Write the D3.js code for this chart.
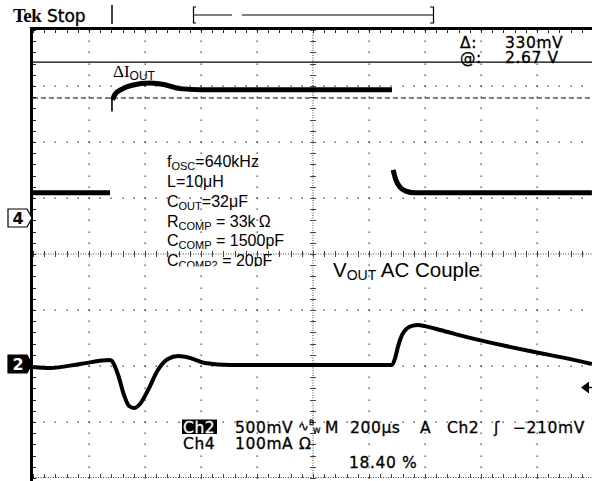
<!DOCTYPE html>
<html><head><meta charset="utf-8">
<script src="https://cdn.jsdelivr.net/npm/d3@7"></script>
<style>html,body{margin:0;padding:0;background:#fff;} svg{display:block}</style>
</head><body><svg id="c" width="592" height="481"></svg>
<script>
// ---------------- data ----------------
// time axis: 200 us/div, 10 divisions
const timeDomainUs = [0, 2000];
// Ch2 : V_OUT, AC coupled, 500 mV/div
const ch2TimeUs = [0, 61, 168, 275, 282, 304, 325, 343, 361, 382, 411, 446, 482, 518, 561, 614, 704, 954, 1282, 1293, 1304, 1318, 1336, 1357, 1375, 1400, 1454, 1550, 1786, 1907, 1996];
const ch2mV     = [-27, -36, 0, 36, 27, -98, -277, -375, -393, -357, -232, -54, 45, 71, 54, 9, -9, -9, -9, 50, 160, 260, 318, 343, 348, 338, 304, 240, 110, 50, 0];
// Ch4 : load current, 100 mA/div  (null = trace break)
const ch4TimeUs = [0, 275, 278, 284, 293, 318, 354, 418, 471, 525, 596, 1282, 1284, 1286, 1296, 1311, 1332, 1361, 1996];
const ch4mA     = [45, 45, null, 211, 221, 230, 237, 241, 238, 231, 229, 229, null, 86, 68, 55, 48, 45, 45];
// leading edge spike of the current step (thin)
const ch4EdgeTimeUs = [282, 282];
const ch4EdgemA = [190, 214];
// cursors (Ch2 scale) and trigger level
const cursorMv = [2696, 2375];
const triggerMv = -210;
const cursorLabels = [["\u0394:", "330mV"], ["@:", "2.67 V"]];
// annotation block: [main, subscript, rest]
const annotationLines = [
  ["f", "OSC", "=640kHz"],
  ["L=10\u03bcH", "", ""],
  ["C", "OUT", "=32\u03bcF"],
  ["R", "COMP", " = 33k\u2009\u03a9"],
  ["C", "COMP", " = 1500pF"],
  ["C", "COMP2", " = 20pF"]
];
const statusLine1 = ["500mV", "M", "200\u03bcs", "A", "Ch2", "\u0283", "\u2212210mV"];
const statusLine2 = ["Ch4", "100mA", "\u03a9"];
const dutyText = "18.40 %";

// ---------------- layout ----------------
const svg = d3.select("#c");
const X0 = 33, Y0 = 30, DIV = 56, NX = 10, NY = 8;
const XC = X0 + 5 * DIV, YC = Y0 + 4 * DIV;
const x = d3.scaleLinear().domain(timeDomainUs).range([X0, X0 + NX * DIV]);
const y2 = d3.scaleLinear().domain([0, 500]).range([364, 364 - DIV]);
const y4 = d3.scaleLinear().domain([0, 100]).range([218, 218 - DIV]);
const UI = "DejaVu Sans", AR = "Liberation Sans, Arial", SER = "Liberation Serif, Times New Roman";

svg.append("rect").attr("width", 592).attr("height", 481).attr("fill", "#fff");

// ---------------- graticule ----------------
const g = svg.append("g");
const minor = DIV / 5;
for (let i = 1; i < NX; i++) {
  if (i === 5) continue;
  for (let k = 0; k <= NY * 5; k++)
    g.append("rect").attr("x", Math.round(X0 + i * DIV) - 0.5).attr("y", Math.round(Y0 + k * minor) - 0.5)
      .attr("width", 1.3).attr("height", 1.3).attr("fill", "#333");
}
for (let j = 1; j < NY; j++) {
  if (j === 4) continue;
  for (let k = 0; k <= NX * 5; k++)
    g.append("rect").attr("x", Math.round(X0 + k * minor) - 0.5).attr("y", Math.round(Y0 + j * DIV) - 0.5)
      .attr("width", 1.3).attr("height", 1.3).attr("fill", "#333");
}
g.append("line").attr("x1", XC).attr("x2", XC).attr("y1", Y0).attr("y2", Y0 + NY * DIV)
  .attr("stroke", "#444").attr("stroke-width", 1).attr("stroke-dasharray", "1 1.5");
g.append("line").attr("x1", X0).attr("x2", X0 + NX * DIV).attr("y1", YC).attr("y2", YC)
  .attr("stroke", "#444").attr("stroke-width", 1).attr("stroke-dasharray", "1 1.5");
g.append("line").attr("x1", X0).attr("x2", X0 + NX * DIV).attr("y1", Y0 + NY * DIV - 0.5).attr("y2", Y0 + NY * DIV - 0.5)
  .attr("stroke", "#444").attr("stroke-width", 1).attr("stroke-dasharray", "1 1.5");
for (let k = 0; k <= NY * 5; k++) {
  const yy = Math.round(Y0 + k * minor) + 0.5;
  g.append("line").attr("x1", XC - 3).attr("x2", XC + 3).attr("y1", yy).attr("y2", yy).attr("stroke", "#444").attr("stroke-width", 1);
  g.append("line").attr("x1", X0).attr("x2", X0 + 3).attr("y1", yy).attr("y2", yy).attr("stroke", "#222").attr("stroke-width", 1);
}
for (let k = 0; k <= NX * 5; k++) {
  const xx = Math.round(X0 + k * minor) + 0.5;
  g.append("line").attr("x1", xx).attr("x2", xx).attr("y1", YC - 3).attr("y2", YC + 3).attr("stroke", "#444").attr("stroke-width", 1);
  g.append("line").attr("x1", xx).attr("x2", xx).attr("y1", Y0).attr("y2", Y0 + 3).attr("stroke", "#222").attr("stroke-width", 1);
  g.append("line").attr("x1", xx).attr("x2", xx).attr("y1", Y0 + NY * DIV - 4).attr("y2", Y0 + NY * DIV).attr("stroke", "#444").attr("stroke-width", 1);
}
g.append("line").attr("x1", 30).attr("x2", 592).attr("y1", 28.5).attr("y2", 28.5).attr("stroke", "#000").attr("stroke-width", 3);
g.append("line").attr("x1", 31.5).attr("x2", 31.5).attr("y1", 27).attr("y2", 481).attr("stroke", "#000").attr("stroke-width", 3);

// ---------------- cursors ----------------
svg.append("line").attr("x1", X0).attr("x2", 592).attr("y1", y2(cursorMv[0])).attr("y2", y2(cursorMv[0]))
  .attr("stroke", "#000").attr("stroke-width", 1.2);
svg.append("line").attr("x1", X0).attr("x2", 592).attr("y1", y2(cursorMv[1])).attr("y2", y2(cursorMv[1]))
  .attr("stroke", "#000").attr("stroke-width", 1.2).attr("stroke-dasharray", "5 3");

// ---------------- traces ----------------
const line2 = d3.line().x(d => x(d[0])).y(d => y2(d[1])).curve(d3.curveMonotoneX);
svg.append("path").attr("d", line2(ch2TimeUs.map((t, i) => [t, ch2mV[i]])))
  .attr("fill", "none").attr("stroke", "#000").attr("stroke-width", 4).attr("stroke-linejoin", "round");
const line4 = d3.line().defined(d => d[1] !== null).x(d => x(d[0])).y(d => y4(d[1])).curve(d3.curveMonotoneX);
svg.append("path").attr("d", line4(ch4TimeUs.map((t, i) => [t, ch4mA[i]])))
  .attr("fill", "none").attr("stroke", "#000").attr("stroke-width", 5).attr("stroke-linejoin", "round");
svg.append("path").attr("d", d3.line().x(d => x(d[0])).y(d => y4(d[1]))(ch4EdgeTimeUs.map((t, i) => [t, ch4EdgemA[i]])))
  .attr("fill", "none").attr("stroke", "#000").attr("stroke-width", 1.6);

// ---------------- channel markers ----------------
function marker(yc, label, inv) {
  svg.append("path").attr("d", `M8,${yc - 9}H27L32,${yc}L27,${yc + 9}H8Z`)
    .attr("fill", inv ? "#000" : "#fff").attr("stroke", "#000").attr("stroke-width", 1.2);
  svg.append("text").attr("x", 18).attr("y", yc + 6).attr("text-anchor", "middle")
    .attr("font-family", UI).attr("font-weight", "bold").attr("font-size", 16)
    .attr("fill", inv ? "#fff" : "#000").text(label);
}
marker(y4(0), "4", false);
marker(y2(0), "2", true);
const yT = y2(triggerMv);
svg.append("path").attr("d", `M581,${yT}L589,${yT - 6}L589,${yT + 6}Z`).attr("fill", "#000");
svg.append("line").attr("x1", 588).attr("x2", 592).attr("y1", yT).attr("y2", yT).attr("stroke", "#000").attr("stroke-width", 1.5);

// ---------------- header ----------------
svg.append("text").attr("x", 13).attr("y", 22).attr("font-family", SER).attr("font-weight", "bold")
  .attr("font-size", 19).attr("letter-spacing", -0.6).text("Tek");
svg.append("text").attr("x", 47).attr("y", 22).attr("font-family", UI).attr("font-size", 17)
  .attr("stroke", "#000").attr("stroke-width", 0.35).text("Stop");
svg.append("line").attr("x1", 112).attr("x2", 112).attr("y1", 5).attr("y2", 24).attr("stroke", "#000").attr("stroke-width", 1.5);
svg.append("path").attr("d", "M196,7H193.5V23H196").attr("fill", "none").attr("stroke", "#000").attr("stroke-width", 1.2);
svg.append("line").attr("x1", 193).attr("x2", 232).attr("y1", 15).attr("y2", 15).attr("stroke", "#000").attr("stroke-width", 1.2);
svg.append("line").attr("x1", 242).attr("x2", 433).attr("y1", 15).attr("y2", 15).attr("stroke", "#000").attr("stroke-width", 1.2);
svg.append("path").attr("d", "M430,7H433.5V23H430").attr("fill", "none").attr("stroke", "#000").attr("stroke-width", 1.2);

const tek = (txt, xx, yy, fs, ls) => svg.append("text").attr("x", xx).attr("y", yy)
  .attr("font-family", UI).attr("font-size", fs || 15.5).attr("letter-spacing", ls === undefined ? 0.6 : ls)
  .attr("stroke", "#000").attr("stroke-width", 0.3).text(txt);

cursorLabels.forEach((c, i) => {
  const by = 48 + i * 15;
  tek(c[0], 460, by);
  tek(c[1], 505, by);
});

// ---------------- annotations ----------------
const dI = svg.append("text").attr("x", 113).attr("y", 77);
dI.append("tspan").attr("font-family", SER).attr("font-size", 17).text("\u0394I");
dI.append("tspan").attr("font-family", AR).attr("font-size", 12).attr("dy", 3).text("OUT");

svg.append("defs").append("clipPath").attr("id", "annClip")
  .append("rect").attr("x", 150).attr("y", 140).attr("width", 200).attr("height", 126.5);
const ann = svg.append("g").attr("clip-path", "url(#annClip)");
const annBase = [167, 187, 207, 226.5, 246, 265.5];
annotationLines.forEach((l, i) => {
  const t = ann.append("text").attr("x", 167).attr("y", annBase[i]).attr("font-family", AR).attr("font-size", 16);
  t.append("tspan").text(l[0]);
  if (l[1]) t.append("tspan").attr("font-size", 11).attr("dy", 3).text(l[1]);
  if (l[2]) t.append("tspan").attr("dy", l[1] ? -3 : 0).text(l[2]);
});

const vo = svg.append("text").attr("x", 333).attr("y", 277).attr("font-family", AR).attr("font-size", 20.5);
vo.append("tspan").text("V");
vo.append("tspan").attr("font-size", 14).attr("dy", 3).text("OUT");
vo.append("tspan").attr("dy", -3).text(" AC Couple");

// ---------------- status area ----------------
svg.append("rect").attr("x", 182).attr("y", 419.5).attr("width", 35).attr("height", 14.5).attr("fill", "#000");
svg.append("text").attr("x", 183).attr("y", 432.5).attr("font-family", UI).attr("font-size", 15.5).attr("letter-spacing", 0.6)
  .attr("fill", "#fff").attr("stroke", "#fff").attr("stroke-width", 0.3).text("Ch2");
tek(statusLine1[0], 235, 432.5);
tek("\u223f", 298, 430.5, 13, 0);
tek("B", 309, 425, 7.5, 0);
tek("W", 313, 432.5, 7.5, 0);
tek(statusLine1[1], 325, 432.5);
tek(statusLine1[2], 350, 432.5);
tek(statusLine1[3], 420, 432.5);
tek(statusLine1[4], 447, 432.5);
tek(statusLine1[5], 494, 432.5);
tek(statusLine1[6], 513, 432.5);
tek(statusLine2[0], 183, 448.5);
tek(statusLine2[1], 235, 448.5);
tek(statusLine2[2], 299, 448.5);
tek(dutyText, 349, 468);
</script></body></html>
